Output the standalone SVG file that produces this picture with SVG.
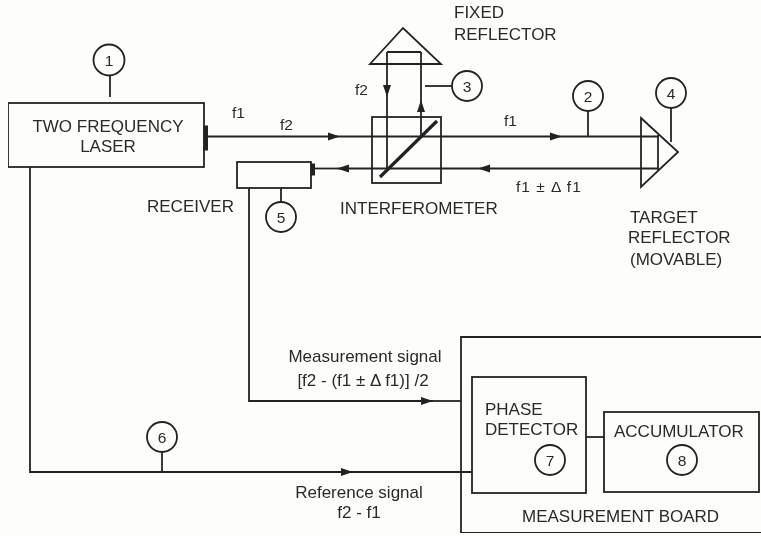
<svg xmlns="http://www.w3.org/2000/svg" width="761" height="536" viewBox="0 0 761 536">
<style>
.l{fill:none;stroke:#222;stroke-width:1.8}
.n{fill:none;stroke:#222;stroke-width:1.8}
.k{fill:#222;stroke:#222}
text{font-family:"Liberation Sans",Arial,sans-serif;font-size:17px;fill:#2a2a2a}
.d{font-size:15.5px}
.c{text-anchor:middle}
</style>
<defs>
<marker id="a" viewBox="0 0 12 10" refX="12" refY="5" markerWidth="12" markerHeight="10" markerUnits="userSpaceOnUse" orient="auto"><path d="M0 1L12 5L0 9Z" fill="#222"/></marker>
<filter id="s" x="0" y="0" width="100%" height="100%"><feGaussianBlur stdDeviation="0.45"/></filter>
</defs>
<rect width="761" height="536" fill="#fdfdfb"/>
<g filter="url(#s)">
<g id="connectors">
<path class="l" d="M208 136.5H340" marker-end="url(#a)"/>
<path class="l" d="M340 136.5H562" marker-end="url(#a)"/>
<path class="l" d="M562 136.5H659"/>
<path class="l" d="M658 168.5H478" marker-end="url(#a)"/>
<path class="l" d="M478 168.5H337" marker-end="url(#a)"/>
<path class="l" d="M337 168.5H315"/>
<path class="l" d="M387 52V97" marker-end="url(#a)"/>
<path class="l" d="M387 97V168"/>
<path class="l" d="M387 52H421"/>
<path class="l" d="M421 136V100" marker-end="url(#a)"/>
<path class="l" d="M421 100V52"/>
<path class="l" d="M249 188V401H433" marker-end="url(#a)"/>
<path class="l" d="M433 401H461"/>
<path class="l" d="M30 167V472H353" marker-end="url(#a)"/>
<path class="l" d="M353 472H472"/>
<path class="l" d="M586 437H604"/>
<path class="l" d="M110 76V97"/>
<path class="l" d="M588 111V136"/>
<path class="l" d="M671 108V142"/>
<path class="l" d="M425 86H452"/>
<path class="l" d="M281 188V202"/>
<path class="l" d="M162 452V472"/>
</g>
<g id="laser">
<rect class="n" x="8" y="103" width="196" height="64"/>
<rect class="k" x="204" y="126" width="3.5" height="24"/>
<text class="c" x="108" y="132">TWO FREQUENCY</text>
<text class="c" x="108" y="152">LASER</text>
</g>
<g id="beam-labels"><text class="d" x="232" y="118">f1</text><text class="d" x="280" y="130">f2</text><text class="d" x="355" y="95">f2</text><text class="d" x="504" y="126">f1</text><text class="d" x="516" y="192" letter-spacing="1">f1 ± Δ f1</text></g>
<g id="receiver">
<rect class="n" x="237" y="162" width="74" height="26"/>
<rect class="k" x="311" y="164" width="3.5" height="11"/>
<text x="147" y="212">RECEIVER</text>
</g>
<g id="fixed-reflector">
<path class="n" d="M370 64L403 28L441 64Z"/>
<text x="454" y="18">FIXED</text><text x="454" y="40">REFLECTOR</text>
</g>
<g id="interferometer">
<rect class="n" x="372" y="117" width="69" height="66"/>
<path d="M380 177L437 121" fill="none" stroke="#222" stroke-width="3.2"/>
<text x="340" y="214">INTERFEROMETER</text>
</g>
<g id="target-reflector">
<path class="n" d="M641 118L678 152L641 187Z"/>
<path class="n" d="M658 135V170"/>
<text x="630" y="223">TARGET</text><text x="628" y="243">REFLECTOR</text><text x="630" y="265">(MOVABLE)</text>
</g>
<g id="c1"><circle class="n" cx="109" cy="60" r="15.5"/><text class="c d" x="109" y="66">1</text></g>
<g id="c2"><circle class="n" cx="588" cy="96" r="15"/><text class="c d" x="588" y="102">2</text></g>
<g id="c3"><circle class="n" cx="467" cy="86" r="15"/><text class="c d" x="467" y="92">3</text></g>
<g id="c4"><circle class="n" cx="671" cy="93" r="15"/><text class="c d" x="671" y="99">4</text></g>
<g id="c5"><circle class="n" cx="281" cy="217" r="15"/><text class="c d" x="281" y="223">5</text></g>
<g id="c6"><circle class="n" cx="162" cy="437" r="15"/><text class="c d" x="162" y="443">6</text></g>
<g id="signals">
<text class="c" x="365" y="362">Measurement signal</text>
<text class="c" x="363" y="386">[f2 - (f1 ± Δ f1)] /2</text>
<text class="c" x="359" y="498">Reference signal</text>
<text class="c" x="359" y="518">f2 - f1</text>
</g>
<g id="measurement-board">
<path class="n" d="M761 337H461V533H761"/>
<text x="522" y="522">MEASUREMENT BOARD</text>
</g>
<g id="phase-detector">
<rect class="n" x="472" y="377" width="114" height="116"/>
<text x="485" y="415">PHASE</text><text x="485" y="435">DETECTOR</text>
<circle class="n" cx="550" cy="460" r="15"/><text class="c d" x="550" y="466">7</text>
</g>
<g id="accumulator">
<rect class="n" x="604" y="412" width="155" height="80"/>
<text x="614" y="437">ACCUMULATOR</text>
<circle class="n" cx="682" cy="460" r="15"/><text class="c d" x="682" y="466">8</text>
</g>
</g>
</svg>
